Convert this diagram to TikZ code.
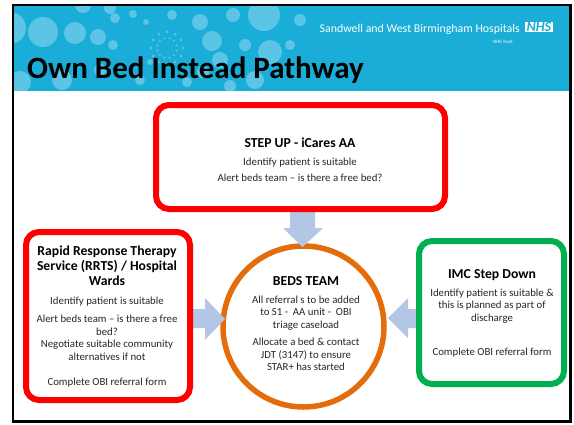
\documentclass[tikz,border=0pt]{standalone}
\usepackage{fontspec}
\setmainfont{Carlito}
\usetikzlibrary{calc}
\begin{document}
\begin{tikzpicture}[x=1pt,y=-1pt,
  band/.style={fill=bandblue,draw=none},
  bubble/.style={fill=bubbleblue,draw=none},
  boxred/.style={draw=boxredc,line width=6pt,rounded corners=13pt,fill=white,rectangle},
  boxgreen/.style={draw=boxgreenc,line width=6pt,rounded corners=13pt,fill=white,rectangle},
  ring/.style={draw=ringorange,line width=5.5pt,circle,fill=white},
  blockarrow/.style={fill=arrowblue,draw=none},
  ttl/.style={font=\bfseries\fontsize{13.7}{15}\selectfont,align=center,text=black,inner sep=0pt},
  body/.style={font=\fontsize{10.8}{12.5}\selectfont,align=center,text=bodygray,inner sep=0pt}
]
\definecolor{bandblue}{HTML}{1AADD8}
\definecolor{bubbleblue}{HTML}{5CC5E6}
\definecolor{boxredc}{HTML}{FF0000}
\definecolor{boxgreenc}{HTML}{00B050}
\definecolor{ringorange}{HTML}{E46C0A}
\definecolor{arrowblue}{HTML}{B4C6E6}
\definecolor{bodygray}{HTML}{262626}
\useasboundingbox (0,0) rectangle (574,424);
\fill[white] (0,0) rectangle (574,424);
% header band
\begin{scope}
\clip (13,5) rectangle (570.5,90.5);
\fill[band] (13,5) rectangle (570.5,90.5);
\foreach \cx/\cy/\r in {10/28/16, 43/32/15, 75/33/11, 98/37/8, 113/45/5, 83/5/8, 110/8/6, 115/18/5,
  20/82/11, 62/80/10, 100/70/6, 133/14/4, 146/22/3, 172/15/5, 200/22/8, 212/41/10, 233/15/7, 264/15/16,
  220/60/8, 203/72/6, 187/82/5, 245/45/6, 270/52/12, 255/80/9, 140/80/5, 290/45/5, 300/20/6, 150/62/3, 230/86/6}
  \fill[bubble] (\cx,\cy) circle (\r);
\foreach \a in {0,30,...,330}
  \fill[bubble] ($(167,48)+(\a:16)$) circle (1.6);
\foreach \a in {15,45,...,345}
  \fill[bubble] ($(167,48)+(\a:10)$) circle (1.2);
\end{scope}
\node[anchor=base west,inner sep=0pt,font=\bfseries\fontsize{31}{36}\selectfont] (title) at (27,78.5) {Own Bed Instead Pathway};
\node[anchor=base east,inner sep=0pt,text=white,font=\fontsize{11.9}{13}\selectfont] (trust) at (520,32) {Sandwell and West Birmingham Hospitals};
\node[fill=white,inner xsep=1.5pt,inner ysep=0.3pt,anchor=west,text=bandblue,font=\bfseries\itshape\fontsize{14}{14}\selectfont] (nhs) at (525,27) {NHS};
\node[anchor=base,inner sep=0pt,text=white,font=\fontsize{5}{6}\selectfont] (nhstrust) at (503,43) {NHS Trust};
% frame
\draw[black,line width=2.5pt] (13,5) rectangle (570.5,421.5);
% ring, then arrows (behind boxes)
\node[ring,minimum size=161pt,inner sep=0pt] (beds) at (303.5,326.5) {};
\fill[blockarrow] (290,200) -- (315,200) -- (315,228) -- (323,228) -- (302.5,247) -- (283,228) -- (290,228) -- cycle;
\fill[blockarrow] (185,309) -- (205,309) -- (205,298) -- (225,319) -- (205,340) -- (205,328) -- (185,328) -- cycle;
\fill[blockarrow] (425,309) -- (408,309) -- (408,298) -- (388,318) -- (408,338) -- (408,328) -- (425,328) -- cycle;
% boxes
\node[boxred,minimum width=289pt,minimum height=104pt] (stepup) at (300.5,157) {};
\node[boxred,minimum width=164pt,minimum height=168pt] (rrts) at (108,316) {};
\node[boxgreen,minimum width=145pt,minimum height=143pt] (imc) at (491.5,312.5) {};
% texts
\node[ttl] (t1) at (300,143) {STEP UP - iCares AA};
\node[body] (b1) at (300,170) {Identify patient is suitable\\[3.5pt]Alert beds team -- is there a free bed?};
\node[ttl] (t2) at (107,266) {Rapid Response Therapy\\Service (RRTS) / Hospital\\Wards};
\node[body] (b2) at (107,342) {Identify patient is suitable\\[5.5pt]Alert beds team -- is there a free\\bed?\\Negotiate suitable community\\alternatives if not\\[12.5pt]Complete OBI referral form};
\node[ttl] (t3) at (306,281) {BEDS TEAM};
\node[body] (b3) at (306,333.5) {All referral s to be added\\to S1 -\ \ AA unit -\ \ OBI\\triage caseload\\[5pt]Allocate a bed \& contact\\JDT (3147) to ensure\\STAR+ has started};
\node[ttl] (t4) at (492,275) {IMC Step Down};
\node[body] (b4) at (492,323) {Identify patient is suitable \&\\this is planned as part of\\discharge\\[21.5pt]Complete OBI referral form};
\end{tikzpicture}
\end{document}
